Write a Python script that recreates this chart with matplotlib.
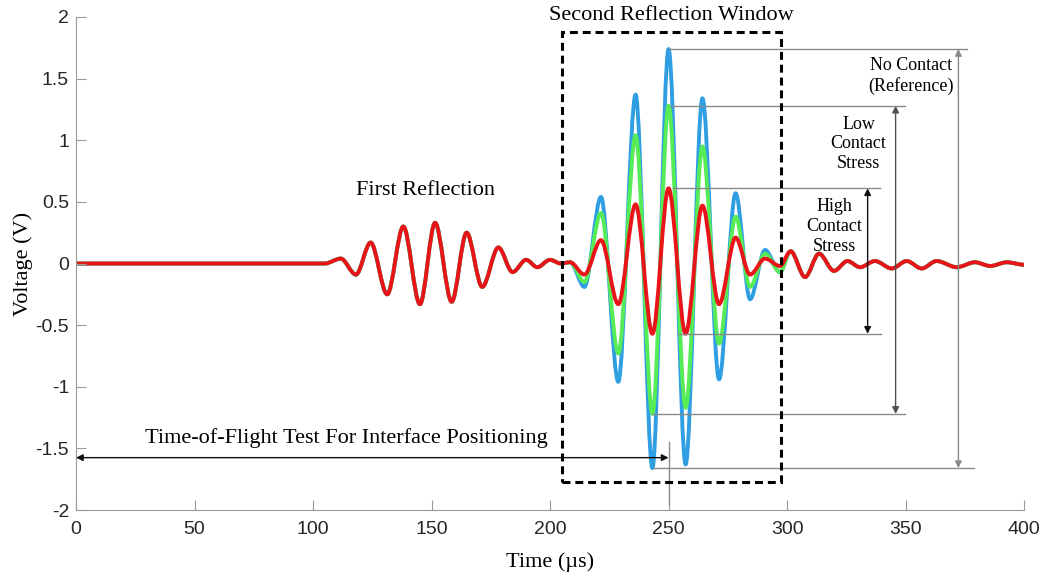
import matplotlib
matplotlib.use('Agg')
import matplotlib.pyplot as plt
from matplotlib.path import Path
from matplotlib.patches import PathPatch, Rectangle

# extrema (time in us, voltage in V)
# first reflection + lead-in, identical for all three signals
t_first = [0, 105, 111.7, 118.1, 124.3, 131.3, 138.1, 145.1, 151.5, 158.5, 164.8,
           171.4, 178.2, 184.2, 189.9, 194.6, 200.0, 204.5, 208.5]
v_first = [0, 0, 0.04, -0.09, 0.17, -0.25, 0.30, -0.33, 0.33, -0.31, 0.25,
           -0.19, 0.13, -0.07, 0.03, -0.03, 0.03, 0.0, 0.01]

# second reflection, differs between contact conditions
t_second = [214.5, 221.5, 228.8, 236.1, 243.2, 250.0, 257.2, 264.3, 271.3, 278.3,
            284.4, 290.7, 297.0]
v_no_contact = [-0.19, 0.54, -0.96, 1.37, -1.66, 1.74, -1.63, 1.34, -0.94, 0.57,
                -0.29, 0.11, -0.07]
v_low_stress = [-0.15, 0.41, -0.73, 1.04, -1.22, 1.28, -1.17, 0.95, -0.65, 0.38,
                -0.19, 0.08, -0.07]
v_high_stress = [-0.09, 0.19, -0.33, 0.48, -0.57, 0.61, -0.57, 0.47, -0.33, 0.21,
                 -0.09, 0.04, -0.02]

# ringing after the window, identical again
t_tail = [301.5, 307.6, 313.5, 319.8, 325.5, 330.8, 337.1, 344.2, 350.5, 356.8,
          363.1, 371.6, 379.3, 385.7, 392.7, 400.0]
v_tail = [0.10, -0.11, 0.08, -0.06, 0.02, -0.03, 0.02, -0.04, 0.02, -0.04,
          0.02, -0.03, 0.01, -0.02, 0.01, -0.01]

y_ticks = [-2, -1.5, -1, -0.5, 0, 0.5, 1, 1.5, 2]
y_tick_labels = ['-2', '-1.5', '-1', '-0.5', '0', '0.5', '1', '1.5', '2']
x_ticks = [0, 50, 100, 150, 200, 250, 300, 350, 400]

tof_time = 250  # time-of-flight marker


def smooth_path(ts, vs):
    # cubic segments with flat tangents at each extremum
    verts = [(ts[0], vs[0])]
    codes = [Path.MOVETO]
    for t0, v0, t1, v1 in zip(ts[:-1], vs[:-1], ts[1:], vs[1:]):
        d = (t1 - t0) / 3
        verts += [(t0 + d, v0), (t1 - d, v1), (t1, v1)]
        codes += [Path.CURVE4] * 3
    return Path(verts, codes)


serif = 'Liberation Serif'
plt.rcParams['font.family'] = 'Liberation Sans'

fig = plt.figure(figsize=(10.47, 5.78), dpi=100)
ax = fig.add_axes([0.0726, 0.1176, 0.9055, 0.853])

series = [(v_no_contact, '#2f9ee3'), (v_low_stress, '#55ec55'), (v_high_stress, '#e8141a')]
for vals, col in series:
    ts = t_first + t_second + t_tail
    vs = v_first + vals + v_tail
    ax.add_patch(PathPatch(smooth_path(ts, vs), fill=False, edgecolor=col, lw=2.8,
                           capstyle='round', joinstyle='round'))

ax.set_xlim(0, 400)
ax.set_ylim(-2, 2)
ax.set_xticks(x_ticks)
ax.set_yticks(y_ticks)
ax.set_yticklabels(y_tick_labels)
for s in ['top', 'right']:
    ax.spines[s].set_visible(False)
for s in ['left', 'bottom']:
    ax.spines[s].set_color('#9a9a9a')
ax.tick_params(direction='in', length=7, width=0.8, color='#9a9a9a',
               labelsize=14, labelcolor='#262626')
ax.tick_params(axis='x', pad=8)
ax.tick_params(axis='y', pad=5)
ax.set_xlabel('Time (\u00b5s)', family=serif, fontsize=16)
ax.set_ylabel('Voltage (V)', family=serif, fontsize=16)
ax.xaxis.set_label_coords(0.5, -0.085)
ax.yaxis.set_label_coords(-0.045, 0.5)

# second reflection window
ax.add_patch(Rectangle((204.9, -1.77), 92.4, 3.65, fill=False, ec='black', lw=2.2,
                       ls=(0, (2.6, 1.6)), zorder=5))
ax.text(251.3, 2.015, 'Second Reflection Window', family=serif, fontsize=16,
        ha='center', va='center')
ax.text(147.3, 0.59, 'First Reflection', family=serif, fontsize=16, ha='center', va='center')

# amplitude markers
marks = [
    (v_no_contact, 250.0, 376, 243.5, 379, 372.3, '#8a8a8a', 'No Contact\n(Reference)', 352.4, 1.52),
    (v_low_stress, 250.5, 349.8, 243.0, 349.8, 345.8, '#505050', 'Low\nContact\nStress', 330.2, 0.97),
    (v_high_stress, 252.0, 339.3, 254.0, 339.5, 334.0, '#111111', 'High\nContact\nStress', 320.0, 0.30),
]
for vals, x0t, x1t, x0b, x1b, xa, acol, label, lx, ly in marks:
    top, bot = max(vals), min(vals)
    ax.plot([x0t, x1t], [top, top], color='#8a8a8a', lw=1, zorder=4)
    ax.plot([x0b, x1b], [bot, bot], color='#8a8a8a', lw=1, zorder=4)
    ax.annotate('', xy=(xa, top), xytext=(xa, bot),
                arrowprops=dict(arrowstyle='<|-|>', color=acol, lw=1,
                                mutation_scale=10, shrinkA=0, shrinkB=0))
    ax.text(lx, ly, label, family=serif, fontsize=13, ha='center', va='center',
            multialignment='center', linespacing=1.2, zorder=6)

# time-of-flight arrow
ax.annotate('', xy=(0, -1.575), xytext=(tof_time, -1.575),
            arrowprops=dict(arrowstyle='<|-|>', color='#111111', lw=1,
                            mutation_scale=10, shrinkA=0, shrinkB=0), zorder=4)
ax.plot([tof_time, tof_time], [-1.45, -1.95], color='#8a8a8a', lw=1, zorder=4)
ax.text(113.9, -1.42, 'Time-of-Flight Test For Interface Positioning', family=serif,
        fontsize=16, ha='center', va='center')

fig.savefig('out.png', dpi=100)
